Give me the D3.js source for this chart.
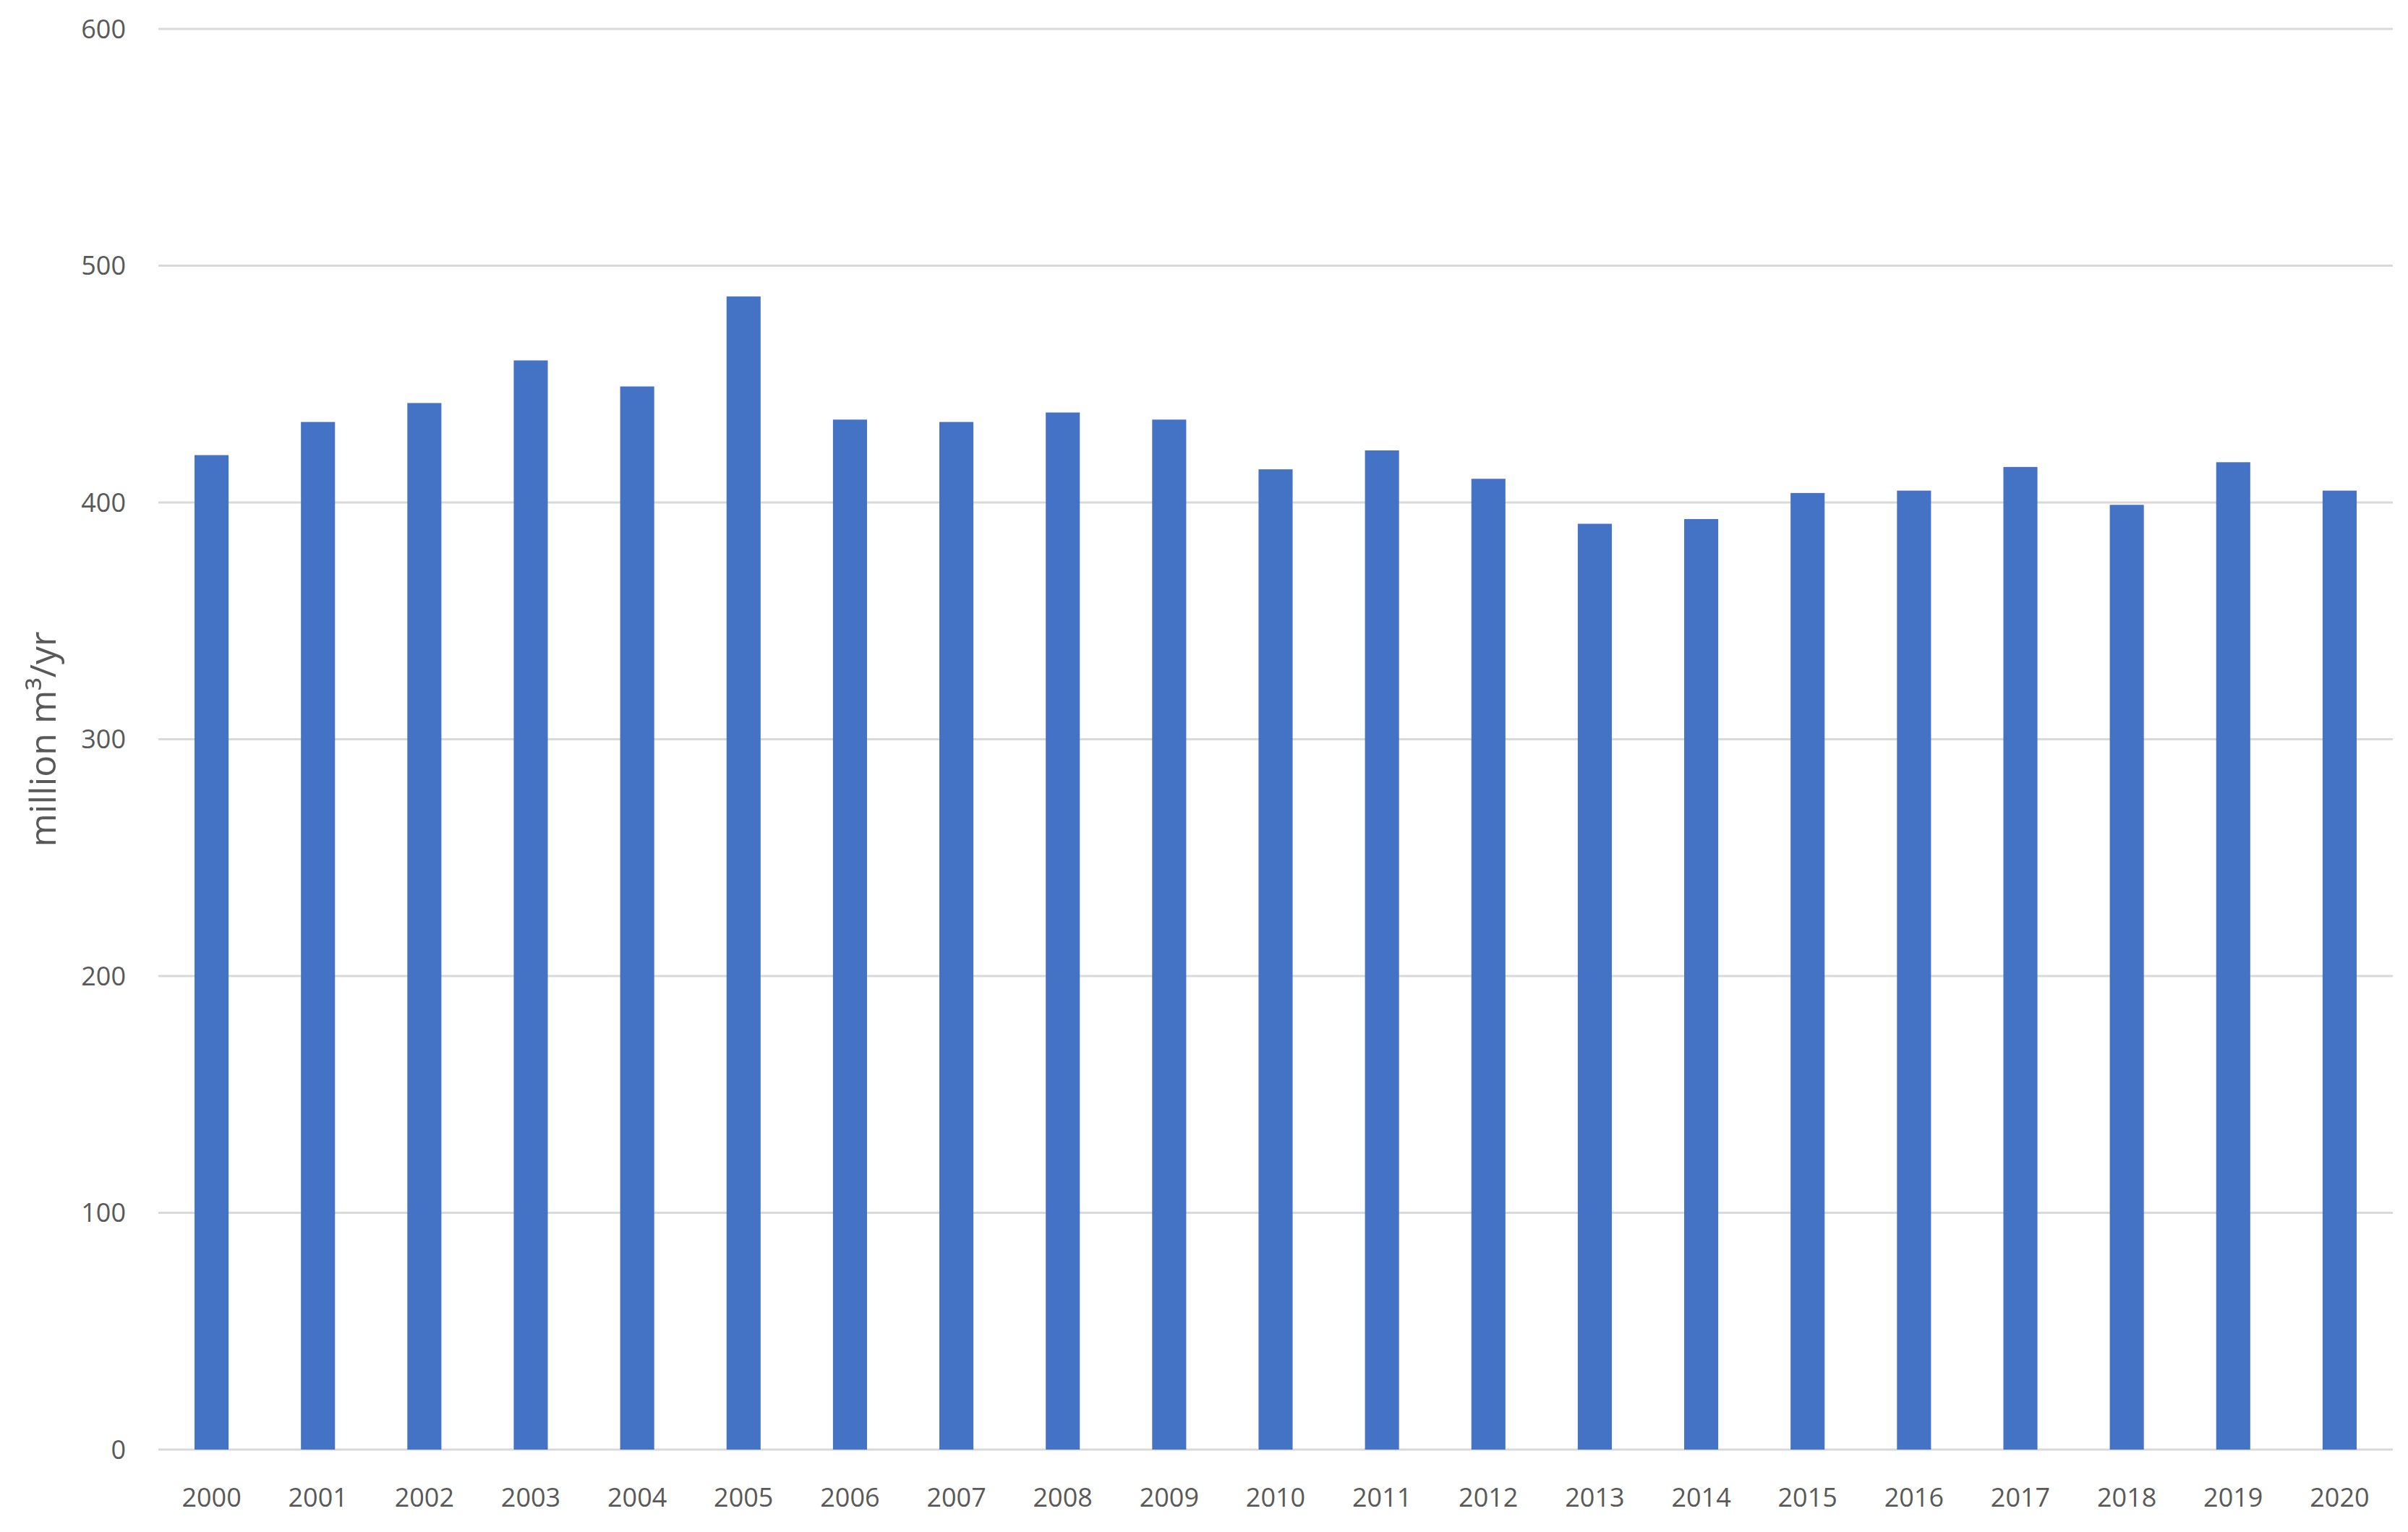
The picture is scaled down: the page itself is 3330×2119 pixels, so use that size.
<!DOCTYPE html>
<html lang="en">
  <head>
    <meta charset="UTF-8" />
    <script src="https://d3js.org/d3.v7.min.js"></script>
    <style>
      body { margin: 0; background: #fff; }
      text { font-family: "Open Sans", "Noto Sans", sans-serif; fill: #595959; }
    </style>
  </head>
  <body>
    <svg id="chart" width="3330" height="2119"></svg>
    <script>
      const years = ["2000","2001","2002","2003","2004","2005","2006","2007","2008","2009","2010",
        "2011","2012","2013","2014","2015","2016","2017","2018","2019","2020"];
      const values = [420, 434, 442, 460, 449, 487, 435, 434, 438, 435, 414,
        422, 410, 391, 393, 404, 405, 415, 399, 417, 405];
      const yTicks = [0, 100, 200, 300, 400, 500, 600];

      const svg = d3.select("#chart");
      const plotLeft = 219, plotRight = 3309, plotTop = 40, plotBottom = 2005;

      const x = d3.scaleBand().domain(years).range([plotLeft, plotRight]).paddingInner(0.68).paddingOuter(0.34);
      const y = d3.scaleLinear().domain([0, 600]).range([plotBottom, plotTop]);

      // gridlines
      svg.append("g")
        .selectAll("line")
        .data(yTicks)
        .join("line")
        .attr("x1", plotLeft).attr("x2", plotRight)
        .attr("y1", d => y(d)).attr("y2", d => y(d))
        .attr("stroke", "#d9d9d9").attr("stroke-width", 3);

      // bars
      svg.append("g")
        .selectAll("rect")
        .data(values)
        .join("rect")
        .attr("x", (d, i) => x(years[i]))
        .attr("width", x.bandwidth())
        .attr("y", d => y(d))
        .attr("height", d => y(0) - y(d))
        .attr("fill", "#4472c4");

      // y tick labels
      svg.append("g")
        .selectAll("text")
        .data(yTicks)
        .join("text")
        .attr("x", 174)
        .attr("y", d => y(d))
        .attr("dy", "0.35em")
        .attr("text-anchor", "end")
        .attr("font-size", 36)
        .text(d => d);

      // x tick labels
      svg.append("g")
        .selectAll("text")
        .data(years)
        .join("text")
        .attr("x", d => x(d) + x.bandwidth() / 2)
        .attr("y", 2071)
        .attr("dy", "0.35em")
        .attr("text-anchor", "middle")
        .attr("font-size", 36)
        .text(d => d);

      // axis title
      svg.append("text")
        .attr("transform", "translate(59," + (plotTop + plotBottom) / 2 + ") rotate(-90)")
        .attr("text-anchor", "middle")
        .attr("dy", "0.35em")
        .attr("font-size", 50)
        .text("million m³/yr");
    </script>
  </body>
</html>
